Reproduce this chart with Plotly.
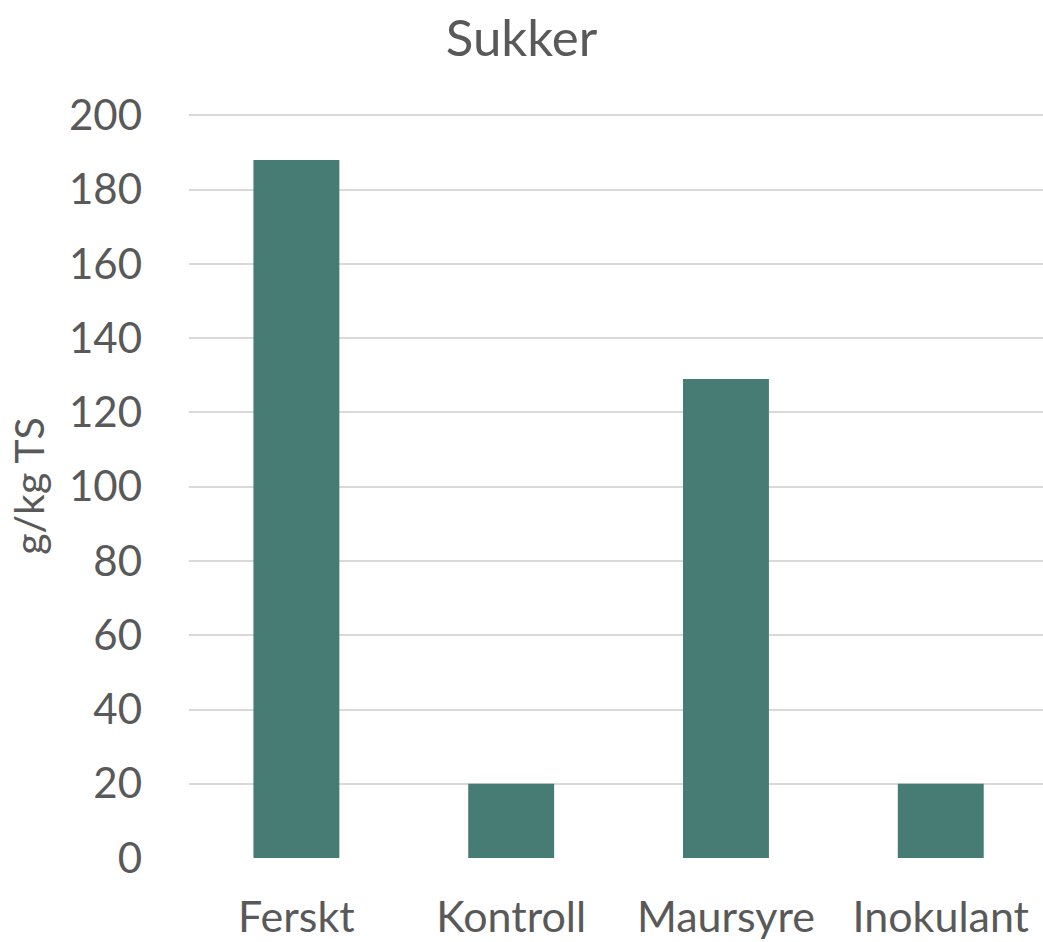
import plotly.graph_objects as go

categories = ["Ferskt", "Kontroll", "Maursyre", "Inokulant"]
sukker = [188, 20, 129, 20]
y_ticks = [0, 20, 40, 60, 80, 100, 120, 140, 160, 180, 200]

TEXT = "#595959"
FONT = "Lato"

fig = go.Figure(
    go.Bar(x=categories, y=sukker, marker=dict(color="#467C73", line=dict(width=0)))
)

fig.update_layout(
    width=1043,
    height=942,
    margin=dict(l=189, r=0, t=113, b=83),
    paper_bgcolor="white",
    plot_bgcolor="white",
    bargap=0.6,
    showlegend=False,
    font=dict(family=FONT, color=TEXT, size=42),
    title=dict(
        text="Sukker",
        x=0.5,
        xanchor="center",
        xref="container",
        y=1 - 38 / 942,
        yanchor="middle",
        yref="container",
        font=dict(family=FONT, size=51, color=TEXT),
    ),
)

fig.update_xaxes(
    range=[-0.5, 3.476],
    automargin=False,
    showgrid=False,
    showline=False,
    zeroline=False,
    ticks="",
    ticklabelstandoff=29,
    tickfont=dict(family=FONT, size=43, color=TEXT),
)

fig.update_yaxes(
    range=[-0.27, 200.67],
    automargin=False,
    tickvals=y_ticks,
    showgrid=True,
    gridcolor="#D9D9D9",
    gridwidth=2,
    zeroline=False,
    showline=False,
    ticks="",
    ticklabelstandoff=46,
    tickfont=dict(family=FONT, size=42, color=TEXT),
    title=dict(text="g/kg TS", font=dict(family=FONT, size=41, color=TEXT), standoff=11),
)

fig.write_html(
    "out.html",
    config={"displayModeBar": False},
    post_script="document.body.style.margin='0';document.documentElement.style.overflow='hidden';document.body.style.overflow='hidden';",
)
